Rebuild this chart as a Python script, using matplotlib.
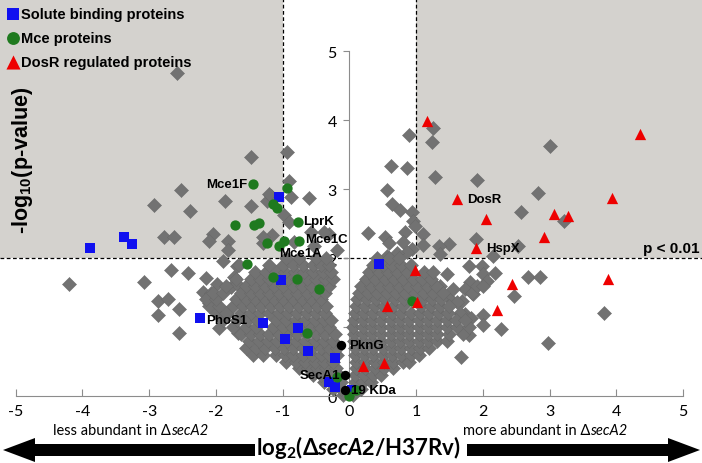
import numpy as np
import matplotlib.pyplot as plt
from matplotlib.patches import Rectangle, FancyArrow

plt.rcParams['axes.unicode_minus'] = False
plt.rcParams['mathtext.fontset'] = 'custom'
plt.rcParams['mathtext.rm'] = 'Liberation Sans:bold'
plt.rcParams['mathtext.bf'] = 'Lato:bold'
plt.rcParams['mathtext.it'] = 'Lato:bold:italic'
plt.rcParams['mathtext.default'] = 'rm'

# dense core of the volcano, one row per -log10(p) level: (y, [x values])
left_core = [
    (0.02, [-0.1]),
    (0.1, [-0.24, -0.12]),
    (0.2, [-0.38, -0.25, -0.13]),
    (0.3, [-0.55, -0.42, -0.28, -0.15]),
    (0.4, [-0.75, -0.62, -0.48, -0.35, -0.2]),
    (0.5, [-0.95, -0.8, -0.66, -0.52, -0.38, -0.24]),
    (0.6, [-1.45, -1.3, -1.1, -0.97, -0.84, -0.7, -0.56, -0.42, -0.3, -0.18]),
    (0.7, [-1.55, -1.4, -1.26, -1.12, -0.98, -0.84, -0.7, -0.56, -0.43, -0.3, -0.18]),
    (0.8, [-1.5, -1.36, -1.22, -1.08, -0.94, -0.8, -0.66, -0.52, -0.38, -0.25]),
    (0.9, [-1.62, -1.48, -1.34, -1.2, -1.06, -0.92, -0.78, -0.64, -0.5, -0.36, -0.22]),
    (1.0, [-1.75, -1.55, -1.4, -1.15, -1.0, -0.86, -0.72, -0.58, -0.44, -0.3]),
    (1.1, [-1.9, -1.68, -1.52, -1.38, -1.1, -0.95, -0.8, -0.66, -0.52, -0.38, -0.27]),
    (1.2, [-2.0, -1.85, -1.62, -1.48, -1.34, -1.2, -1.06, -0.92, -0.78, -0.64, -0.5, -0.36]),
    (1.3, [-2.1, -1.95, -1.75, -1.6, -1.46, -1.32, -1.18, -1.04, -0.9, -0.76, -0.62, -0.48, -0.35]),
    (1.4, [-2.15, -2.0, -1.7, -1.55, -1.41, -1.27, -1.13, -0.99, -0.85, -0.71, -0.57, -0.43]),
    (1.5, [-2.05, -1.9, -1.62, -1.48, -1.34, -1.2, -1.06, -0.92, -0.78, -0.64, -0.5, -0.37]),
    (1.6, [-1.85, -1.55, -1.41, -1.27, -1.13, -0.99, -0.85, -0.71, -0.57, -0.43, -0.3]),
    (1.7, [-1.7, -1.48, -1.34, -1.2, -1.06, -0.92, -0.78, -0.64, -0.5, -0.36, -0.24]),
    (1.8, [-1.42, -1.25, -1.1, -0.96, -0.82, -0.68, -0.54, -0.4, -0.27]),
    (1.9, [-1.2, -1.0, -0.85, -0.7, -0.55, -0.42, -0.3]),
    (2.0, [-0.95, -0.75, -0.5, -0.35]),
]
right_core = [
    (0.02, [0.05]),
    (0.1, [0.07, 0.18]),
    (0.2, [0.08, 0.2, 0.32]),
    (0.3, [0.09, 0.22, 0.35, 0.47]),
    (0.4, [0.1, 0.24, 0.38, 0.52, 0.65]),
    (0.5, [0.1, 0.24, 0.38, 0.52, 0.66, 0.8, 0.9]),
    (0.6, [0.09, 0.22, 0.36, 0.5, 0.64, 0.78, 0.92, 1.05]),
    (0.7, [0.08, 0.22, 0.36, 0.5, 0.64, 0.78, 0.92, 1.06, 1.2]),
    (0.8, [0.07, 0.2, 0.34, 0.48, 0.62, 0.76, 0.9, 1.04, 1.18, 1.32, 1.46]),
    (0.9, [0.07, 0.2, 0.34, 0.48, 0.62, 0.76, 0.9, 1.04, 1.18, 1.32, 1.5, 1.7]),
    (1.0, [0.06, 0.2, 0.34, 0.48, 0.62, 0.76, 0.9, 1.04, 1.18, 1.32, 1.46, 1.62, 1.8]),
    (1.1, [0.07, 0.2, 0.34, 0.48, 0.62, 0.76, 0.9, 1.04, 1.18, 1.32, 1.46, 1.6, 1.74]),
    (1.2, [0.08, 0.22, 0.36, 0.5, 0.64, 0.78, 0.92, 1.06, 1.2, 1.34, 1.48]),
    (1.3, [0.1, 0.24, 0.38, 0.52, 0.66, 0.8, 1.08, 1.22, 1.36, 1.5]),
    (1.4, [0.12, 0.26, 0.4, 0.54, 0.68, 0.82, 0.96, 1.1, 1.24, 1.38]),
    (1.5, [0.14, 0.28, 0.42, 0.56, 0.7, 0.84, 0.98, 1.12, 1.26, 1.4]),
    (1.6, [0.18, 0.32, 0.46, 0.6, 0.74, 0.88, 1.02, 1.16, 1.3]),
    (1.7, [0.25, 0.39, 0.53, 0.67, 0.81, 0.95, 1.09, 1.23]),
    (1.8, [0.3, 0.44, 0.58, 0.72, 0.86, 1.12, 1.26]),
    (1.9, [0.35, 0.5, 0.64, 0.78, 0.92]),
    (2.0, [0.42, 0.6, 0.75]),
]

# scattered proteins outside the core
spread_x = [-2.58, -2.53, -2.92, -2.39, -1.87, -2.78, -2.62, -2.05, -2.10, -1.82, -1.82,
            -4.20, -3.07, -2.67, -2.42, -2.15, -1.98, -2.20, -2.08, -2.03, -2.11, -2.86,
            -2.71, -2.56, -2.86, -2.56, -1.95, -1.73, -1.78, -1.68, -1.89, -1.68, -1.83,
            -1.67, -1.47, -0.93, -0.90, -0.87, -0.60, -1.48, -1.24, -1.18, -0.98, -0.91,
            -1.16, -1.29, -0.58, -0.31, -0.18, -0.53, -1.21, -1.29, -0.83, -0.38, -1.66,
            0.90, 0.63, 0.86, 0.56, 0.64, 0.76, 0.94, 0.95, 0.98, 0.28, 0.54, 0.60, 0.84,
            0.81, 0.94, 0.86, 0.71, 0.56, 1.26, 1.24, 1.29, 3.00, 1.92, 2.82, 2.58, 3.22,
            1.90, 2.53, 2.16, 1.49, 1.34, 1.36, 1.10, 1.11, 1.79, 1.99, 2.19, 2.01, 2.06,
            1.81, 1.74, 1.86, 1.69, 1.74, 1.82, 2.01, 2.00, 1.79, 1.68, 2.28, 2.47, 2.67,
            2.85, 3.81, 2.97, 1.46, 1.36, 1.51, 1.61, 1.66, 1.84, 1.91, 2.01, 1.56]
spread_y = [4.68, 2.99, 2.77, 2.68, 2.82, 2.31, 2.31, 2.35, 2.24, 2.24, 2.12,
            1.63, 1.65, 1.83, 1.78, 1.71, 1.62, 1.51, 1.50, 1.41, 1.35, 1.37,
            1.40, 1.26, 1.17, 0.92, 0.98, 1.72, 1.58, 1.89, 1.96, 1.62, 1.19,
            0.92, 3.46, 3.54, 3.12, 2.89, 2.87, 2.75, 2.83, 2.90, 2.62, 2.52,
            2.34, 2.22, 2.37, 2.35, 2.11, 2.18, 2.93, 2.30, 2.23, 2.37, 1.90,
            3.78, 3.34, 3.31, 2.98, 2.78, 2.69, 2.66, 2.54, 2.47, 2.36, 2.30, 2.22, 2.37,
            2.23, 2.13, 2.08, 2.07, 2.03, 3.88, 3.68, 3.17, 3.62, 3.13, 2.94, 2.66, 2.54,
            2.28, 2.18, 2.03, 2.20, 2.18, 2.06, 2.35, 2.19, 1.89, 1.88, 1.78, 1.77, 1.67,
            1.65, 1.55, 1.48, 1.38, 1.19, 1.13, 1.18, 1.03, 0.88, 0.57, 0.97, 1.45, 1.73,
            1.73, 1.20, 0.77, 1.77, 1.60, 1.41, 1.36, 1.21, 1.50, 1.60, 1.60, 1.55]

solute_x = [-3.89, -3.38, -3.26, -1.05, 0.44, -1.03, -2.24, -1.29, -0.77, -0.96, -0.62,
            -0.22, -0.30, -0.22, 0.04]
solute_y = [2.14, 2.30, 2.20, 2.89, 1.91, 1.68, 1.13, 1.06, 0.99, 0.83, 0.65,
            0.55, 0.21, 0.13, 0.08]

mce_x = [-1.45, -0.93, -1.14, -1.08, -1.72, -1.43, -1.36, -0.77, -1.23, -1.06, -0.98,
         -0.76, -1.53, -1.15, -0.78, -0.46, -0.64, -0.19, -0.01, 0.10, 0.94]
mce_y = [3.07, 3.02, 2.78, 2.73, 2.48, 2.48, 2.51, 2.52, 2.22, 2.18, 2.25,
         2.25, 1.91, 1.73, 1.70, 1.55, 0.92, 0.28, 0.0, 0.08, 1.38]

dosr_x = [1.16, 4.36, 1.62, 3.93, 2.05, 3.06, 3.28, 2.91, 1.90, 0.99, 2.44, 3.88,
          2.22, 1.01, 0.56, 0.20, 0.52]
dosr_y = [3.98, 3.80, 2.85, 2.87, 2.57, 2.64, 2.61, 2.30, 2.14, 1.82, 1.63, 1.69,
          1.25, 1.36, 1.30, 0.43, 0.48]

other_x = [-0.13, -0.06, -0.06]
other_y = [0.74, 0.31, 0.08]

# name, x, y, horizontal alignment
labels = [('Mce1F', -1.53, 3.07, 'right'), ('LprK', -0.69, 2.54, 'left'),
          ('Mce1C', -0.66, 2.28, 'left'), ('Mce1A', -1.05, 2.07, 'left'),
          ('PhoS1', -2.14, 1.10, 'left'), ('PknG', 0.0, 0.74, 'left'),
          ('SecA1', -0.13, 0.31, 'right'), ('19 KDa', 0.02, 0.08, 'left'),
          ('DosR', 1.76, 2.86, 'left'), ('HspX', 2.05, 2.14, 'left')]

gray_x, gray_y = list(spread_x), list(spread_y)
for yy, xs in left_core + right_core:
    gray_x += xs
    gray_y += [yy] * len(xs)

fig = plt.figure(figsize=(7.02, 4.64), dpi=100)
ax = fig.add_axes([0, 0, 1, 1])
x0, x1, y0, y1 = -5.235, 5.285, -0.971, 5.754
ax.set_xlim(x0, x1)
ax.set_ylim(y0, y1)

shade = '#d4d2ce'
ax.add_patch(Rectangle((x0, 2), -1 - x0, y1 - 2, fc=shade, ec='none', zorder=0))
ax.add_patch(Rectangle((1, 2), x1 - 1, y1 - 2, fc=shade, ec='none', zorder=0))
ax.plot([-1, -1], [2, y1], color='k', lw=0.9, dashes=(3, 2), zorder=1)
ax.plot([1, 1], [2, y1], color='k', lw=0.9, dashes=(3, 2), zorder=1)
ax.plot([x0, x1], [2, 2], color='k', lw=0.9, dashes=(3, 2), zorder=1)

ax.scatter(gray_x, gray_y, marker='D', s=52, color='#727272', lw=0.3,
           edgecolor='#666666', zorder=3, clip_on=False)
sb = ax.scatter(solute_x, solute_y, marker='s', s=45, color='#1010f0', lw=0, zorder=4,
                label='Solute binding proteins')
mc = ax.scatter(mce_x, mce_y, marker='o', s=55, color='#1f7a1f', lw=0, zorder=4,
                label='Mce proteins')
dr = ax.scatter(dosr_x, dosr_y, marker='^', s=66, color='#ee0000', lw=0, zorder=4,
                label='DosR regulated proteins')
ax.scatter(other_x, other_y, marker='o', s=46, color='k', lw=0, zorder=5)

for name, lx, ly, ha in labels:
    ax.text(lx, ly, name, ha=ha, va='center', fontsize=9.5, fontweight='bold',
            family='Liberation Sans', zorder=6)
ax.text(5.25, 2.04, 'p < 0.01', ha='right', va='bottom', fontsize=11,
        fontweight='bold', family='Liberation Sans')

# axes through the origin
for side in ['top', 'right']:
    ax.spines[side].set_visible(False)
ax.spines['left'].set_position(('data', 0))
ax.spines['left'].set_bounds(0, 5)
ax.spines['bottom'].set_position(('data', 0))
ax.spines['bottom'].set_bounds(-5, 5)
for side in ['left', 'bottom']:
    ax.spines[side].set_color('#8c8c8c')
ax.set_xticks(range(-5, 6))
ax.set_yticks(range(0, 6))
ax.tick_params(axis='x', direction='in', length=5, color='#8c8c8c', pad=6, labelsize=11.5)
ax.tick_params(axis='y', direction='out', length=4, color='#8c8c8c', pad=5, labelsize=11.5)
for t in ax.get_xticklabels() + ax.get_yticklabels():
    t.set_family('Lato')

ax.text(0.032, 0.655, r'-log$_{10}$(p-value)', transform=ax.transAxes, rotation=90,
        ha='center', va='center', fontsize=15.5, fontweight='bold', family='Liberation Sans')

leg = ax.legend(handles=[sb, mc, dr], loc='upper left', bbox_to_anchor=(0, 1),
                frameon=False, borderaxespad=0, borderpad=0.55, handlelength=0.7,
                handletextpad=0.2, labelspacing=0.68, markerscale=1.25,
                prop={'family': 'Liberation Sans', 'weight': 'bold', 'size': 10.5})

# direction arrows and x label below the axis
W, H = 702.0, 464.0
yc = 1 - 451 / H
fig.add_artist(FancyArrow(255 / W, yc, -220 / W, 0, width=12 / H, head_width=24 / H,
                          head_length=32 / W, length_includes_head=False,
                          transform=fig.transFigure, color='k', lw=0))
fig.add_artist(FancyArrow(467 / W, yc, 201 / W, 0, width=12 / H, head_width=24 / H,
                          head_length=32 / W, length_includes_head=False,
                          transform=fig.transFigure, color='k', lw=0))
fig.text(358 / W, 1 - 448 / H, r'$\mathbf{log_2(\Delta}\mathit{secA2}\mathbf{/H37Rv)}$',
         ha='center', va='center', fontsize=16)


def side_note(xpix, text):
    t1 = fig.text(xpix / W, 1 - 438 / H, text + ' \u0394', ha='left', va='bottom',
                  fontsize=10.5, family=['Lato', 'DejaVu Sans'])
    ax.annotate('secA2', xy=(1, 0), xycoords=t1, ha='left', va='bottom', fontsize=10.5,
                family='Lato', style='italic')


side_note(53, 'less abundant in')
side_note(463, 'more abundant in')

fig.savefig('out.png', dpi=100)
